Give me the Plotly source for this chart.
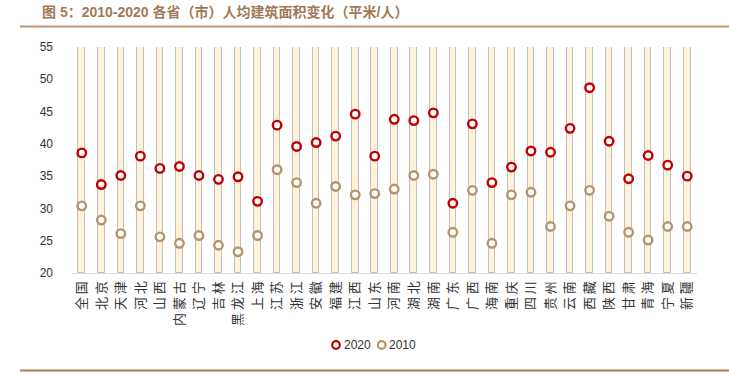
import plotly.graph_objects as go

provinces = ["全国", "北京", "天津", "河北", "山西", "内蒙古", "辽宁", "吉林", "黑龙江", "上海",
             "江苏", "浙江", "安徽", "福建", "江西", "山东", "河南", "湖北", "湖南", "广东",
             "广西", "海南", "重庆", "四川", "贵州", "云南", "西藏", "陕西", "甘肃", "青海",
             "宁夏", "新疆"]
v2020 = [38.6, 33.7, 35.1, 38.1, 36.2, 36.5, 35.1, 34.5, 34.9, 31.1,
         42.9, 39.6, 40.2, 41.2, 44.6, 38.1, 43.8, 43.6, 44.8, 30.8,
         43.1, 34.0, 36.4, 38.9, 38.7, 42.4, 48.7, 40.4, 34.6, 38.2,
         36.7, 35.0]
v2010 = [30.4, 28.2, 26.1, 30.4, 25.6, 24.6, 25.8, 24.3, 23.3, 25.8,
         36.0, 34.0, 30.8, 33.4, 32.1, 32.3, 33.0, 35.1, 35.3, 26.3,
         32.8, 24.6, 32.1, 32.5, 27.2, 30.4, 32.8, 28.8, 26.3, 25.1,
         27.2, 27.2]
series_names = ["2020", "2010"]
y_min, y_max = 20, 55
y_ticks = [20, 25, 30, 35, 40, 45, 50, 55]
title_text = "图 5：2010-2020 各省（市）人均建筑面积变化（平米/人）"

RED = "#C00000"
TAN = "#B8946B"

# rotated labels (read bottom-to-top), a space between characters widens spacing
tick_text = [" ".join(list(p)) for p in provinces]

fig = go.Figure()
fig.add_trace(go.Bar(
    x=provinces, y=[y_max - y_min] * len(provinces), base=[y_min] * len(provinces),
    width=0.34, marker=dict(color="#FFF4DB", line=dict(color="#BFBFBF", width=1)),
    showlegend=False, hoverinfo="skip"))
fig.add_trace(go.Scatter(
    x=provinces, y=v2020, mode="markers", name=series_names[0], showlegend=False,
    marker=dict(symbol="circle", size=8.5, color="white",
                line=dict(color=RED, width=2.4))))
fig.add_trace(go.Scatter(
    x=provinces, y=v2010, mode="markers", name=series_names[1], showlegend=False,
    marker=dict(symbol="circle", size=8.5, color="white",
                line=dict(color=TAN, width=2.4))))

fig.update_layout(
    width=729, height=375,
    margin=dict(l=72, r=32, t=47, b=102, autoexpand=False),
    paper_bgcolor="white", plot_bgcolor="white",
    font=dict(family="Liberation Sans, Noto Sans CJK SC", size=12, color="#333333"),
    bargap=0,
    xaxis=dict(tickmode="array", tickvals=provinces, ticktext=tick_text,
               tickangle=-90, showgrid=False, showline=True, linecolor="#D9D9D9",
               linewidth=1, ticks="", automargin=False, ticklabelstandoff=2,
               tickfont=dict(family="Noto Sans CJK SC", size=13, color="#333333"),
               range=[-0.5, len(provinces) - 0.5]),
    yaxis=dict(range=[y_min, y_max], tickvals=y_ticks, showgrid=False, zeroline=False,
               showline=False, ticks="", ticklabelstandoff=18, automargin=False,
               tickfont=dict(family="Liberation Sans", size=12, color="#333333")),
    showlegend=False,
)

# legend (drawn manually for compact symbol/text spacing)
leg_y = -0.3186
for cx, tx, col, name in [(0.4224, 0.4312, RED, series_names[0]),
                          (0.4955, 0.5040, TAN, series_names[1])]:
    fig.add_shape(type="circle", xref="paper", yref="paper", xsizemode="pixel", ysizemode="pixel",
                  xanchor=cx, yanchor=leg_y, x0=-3.8, x1=3.8, y0=-3.8, y1=3.8,
                  line=dict(color=col, width=2.2), fillcolor="white")
    fig.add_annotation(text=name, xref="paper", yref="paper", x=tx, y=leg_y,
                       xanchor="left", yanchor="middle", showarrow=False,
                       font=dict(family="Liberation Sans", size=12, color="#333333"))

fig.add_annotation(text="<b>" + title_text + "</b>", xref="paper", yref="paper",
                   x=-0.0512, y=1.155, xanchor="left", yanchor="middle", showarrow=False,
                   font=dict(family="Liberation Sans, Noto Sans CJK SC", size=14, color="#A07A58"))
fig.add_shape(type="line", xref="paper", yref="paper", x0=-0.0832, x1=1.06, y0=1.0907, y1=1.0907,
              line=dict(color="#B8987A", width=2))
fig.add_shape(type="line", xref="paper", yref="paper", x0=-0.0832, x1=1.06, y0=-0.431, y1=-0.431,
              line=dict(color="#B07A52", width=2))

fig.write_html("out.html", config={"displayModeBar": False},
               post_script="document.body.style.margin='0';")
